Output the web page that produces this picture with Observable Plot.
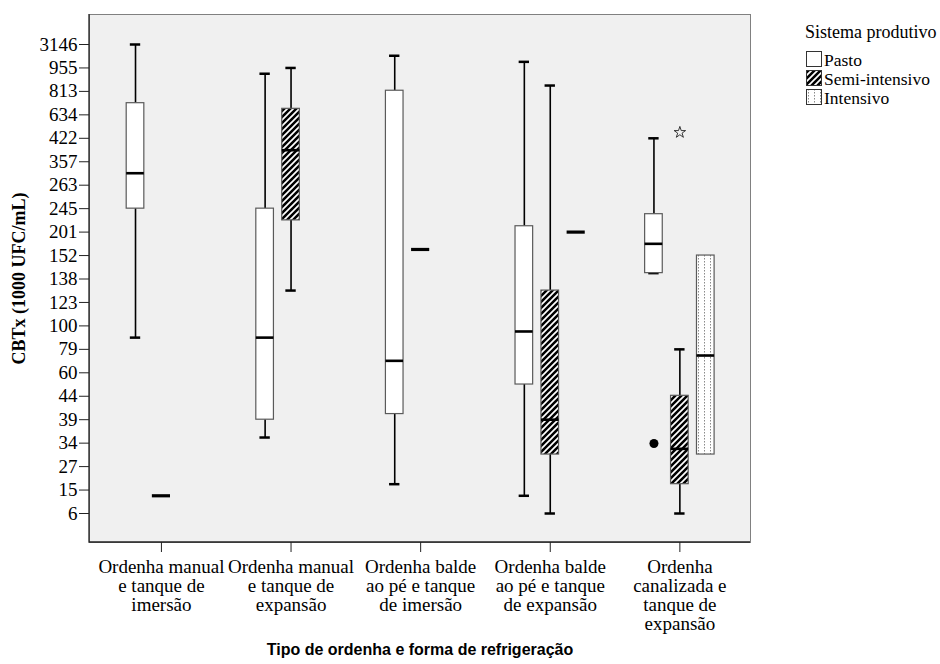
<!DOCTYPE html>
<html>
<head>
<meta charset="utf-8">
<script src="https://cdn.jsdelivr.net/npm/d3@7"></script>
<script src="https://cdn.jsdelivr.net/npm/@observablehq/plot@0.6"></script>
<style>
  body { margin: 0; background: #fff; }
  #wrap { position: relative; width: 940px; height: 664px; }
  #legend, #legend * { font-family: "Liberation Serif", "Times New Roman", serif !important; color: #000; }
  #legend .title { position: absolute; left: 805px; top: 23px; font-size: 18px; line-height: 18px; white-space: nowrap; }
  #legend .sw { position: absolute; left: 806px; width: 16px; height: 16px; }
  #legend .lab { position: absolute; left: 824px; font-size: 17.5px; line-height: 17px; white-space: nowrap; }
</style>
</head>
<body>
<div id="wrap"></div>
<script>
// ---------- data ----------
const groupLabels = [
  "Ordenha manual\ne tanque de\nimersão",
  "Ordenha manual\ne tanque de\nexpansão",
  "Ordenha balde\nao pé e tanque\nde imersão",
  "Ordenha balde\nao pé e tanque\nde expansão",
  "Ordenha\ncanalizada e\ntanque de\nexpansão"
];
const systems = ["Pasto", "Semi-intensivo", "Intensivo"];
const yTicks = [6, 15, 27, 34, 39, 44, 60, 79, 100, 123, 138, 152, 201, 245, 263, 357, 422, 634, 813, 955, 3146];

// boxes (group index, system, whiskers, quartiles, median)
const boxGroup    = [0, 1, 1, 2, 3, 3, 4, 4, 4];
const boxSystem   = ["Pasto", "Pasto", "Semi-intensivo", "Pasto", "Pasto", "Semi-intensivo", "Pasto", "Semi-intensivo", "Intensivo"];
const whiskerLow  = [89.5, 35.2, 130.6, 18, 12.8, 6, 141.5, 6, null];
const boxQ1       = [245, 39, 223, 40.2, 52, 30.6, 141.5, 18, 30.6];
const boxMedian   = [311, 89.5, 389, 69.7, 95, 39, 176.5, 32.3, 74];
const boxQ3       = [723, 245, 680, 817, 212, 130.6, 234.6, 44.3, 152];
const whiskerHigh = [3146, 920, 955, 2094, 1525, 848.5, 422, 79, null];

// single-observation series (drawn as a dash)
const singleGroup  = [0, 2, 3];
const singleSystem = ["Semi-intensivo", "Semi-intensivo", "Intensivo"];
const singleValue  = [12.8, 164.7, 201];

// outliers
const outlierGroup  = [4, 4];
const outlierSystem = ["Pasto", "Semi-intensivo"];
const outlierValue  = [33.9, 475];
const outlierKind   = ["circle", "star"];

// ---------- layout ----------
const serif = "'Liberation Serif', 'Times New Roman', serif";
const sans = "'Liberation Sans', Arial, sans-serif";
const sysOffset = {"Pasto": -0.2, "Semi-intensivo": 0, "Intensivo": 0.2};
const sysFill = {"Pasto": "#fff", "Semi-intensivo": "url(#hatch)", "Intensivo": "url(#dots)"};
const boxHalf = 0.068, capHalf = 0.04, dashHalf = 0.07;

const boxes = boxGroup.map((g, i) => ({
  g, s: boxSystem[i], lo: whiskerLow[i], q1: boxQ1[i], med: boxMedian[i], q3: boxQ3[i], hi: whiskerHigh[i],
  xc: g + sysOffset[boxSystem[i]]
}));
const singles = singleGroup.map((g, i) => ({g, s: singleSystem[i], v: singleValue[i], xc: g + sysOffset[singleSystem[i]]}));
const outliers = outlierGroup.map((g, i) => ({g, s: outlierSystem[i], v: outlierValue[i], kind: outlierKind[i], xc: g + sysOffset[outlierSystem[i]]}));
const withWhisk = boxes.filter(d => d.lo != null);

function patternDefs() {
  const ns = "http://www.w3.org/2000/svg";
  const defs = document.createElementNS(ns, "defs");
  defs.innerHTML =
    `<pattern id="hatch" patternUnits="userSpaceOnUse" width="6" height="6">
       <rect width="6" height="6" fill="#000"/>
       <path d="M-1,1 l2,-2 M0,6 l6,-6 M5,7 l2,-2" stroke="#fff" stroke-width="1.7"/>
     </pattern>
     <pattern id="dots" patternUnits="userSpaceOnUse" width="6" height="3">
       <rect width="6" height="3" fill="#fff"/>
       <rect x="2" y="0" width="1" height="1.5" fill="#8a8a8a"/>
     </pattern>`;
  return defs;
}
function axisLines(index, scales, values, dims) {
  const ns = "http://www.w3.org/2000/svg";
  const g = document.createElementNS(ns, "g");
  const l = dims.marginLeft, b = dims.height - dims.marginBottom, t = dims.marginTop, r = dims.width - dims.marginRight;
  g.innerHTML = `<path d="M${l},${t}V${b}H${r}" fill="none" stroke="#222" stroke-width="1.3"/>`;
  return g;
}

const plot = Plot.plot({
  width: 940,
  height: 664,
  marginLeft: 89,
  marginRight: 190,
  marginTop: 14,
  marginBottom: 122,
  style: {fontFamily: serif, fontSize: "19px", color: "#000", background: "#fff"},
  x: {type: "linear", domain: [-0.555, 4.545], axis: null},
  y: {type: "linear", domain: yTicks, insetTop: 30, insetBottom: 29, axis: null},
  marks: [
    patternDefs,
    Plot.frame({fill: "#f0f0f0", stroke: "#808080", strokeWidth: 1}),
    axisLines,
    Plot.axisY({ticks: yTicks, tickFormat: d => String(d), tickSize: 10, tickPadding: 2, fontSize: 19, fontFamily: serif, fontVariant: "normal", label: null, stroke: "#222"}),
    Plot.axisX({ticks: [0, 1, 2, 3, 4], tickFormat: i => groupLabels[i], tickSize: 10, tickPadding: 7, fontSize: 19, fontFamily: serif, fontVariant: "normal", lineHeight: 1.0, label: null, stroke: "#222"}),
    // whiskers
    Plot.ruleX(withWhisk, {x: "xc", y1: "q3", y2: "hi", stroke: "#000", strokeWidth: 1.6}),
    Plot.ruleX(withWhisk, {x: "xc", y1: "lo", y2: "q1", stroke: "#000", strokeWidth: 1.6}),
    Plot.ruleY(withWhisk, {y: "hi", x1: d => d.xc - capHalf, x2: d => d.xc + capHalf, stroke: "#000", strokeWidth: 2.5}),
    Plot.ruleY(withWhisk, {y: "lo", x1: d => d.xc - capHalf, x2: d => d.xc + capHalf, stroke: "#000", strokeWidth: 2.5}),
    // boxes
    ...systems.map(s => Plot.rect(boxes.filter(d => d.s === s), {
      x1: d => d.xc - boxHalf, x2: d => d.xc + boxHalf, y1: "q1", y2: "q3",
      fill: sysFill[s], stroke: "#5a5a5a", strokeWidth: 1.2
    })),
    // medians
    Plot.ruleY(boxes, {y: "med", x1: d => d.xc - boxHalf, x2: d => d.xc + boxHalf, stroke: "#000", strokeWidth: 2.6}),
    // single values
    Plot.ruleY(singles, {y: "v", x1: d => d.xc - dashHalf, x2: d => d.xc + dashHalf, stroke: "#000", strokeWidth: 3.2}),
    // outliers
    Plot.dot(outliers.filter(d => d.kind === "circle"), {x: "xc", y: "v", r: 4.5, fill: "#000", stroke: "none"}),
    Plot.dot(outliers.filter(d => d.kind === "star"), {x: "xc", y: "v", symbol: "star", r: 3.6, fill: "none", stroke: "#222", strokeWidth: 0.9}),
    // axis titles
    Plot.text(["CBTx (1000 UFC/mL)"], {text: d => d, frameAnchor: "left", textAnchor: "middle", dx: -70, rotate: -90, fontSize: 18, fontWeight: "bold", fontFamily: serif, fill: "#000"}),
    Plot.text(["Tipo de ordenha e forma de refrigeração"], {text: d => d, frameAnchor: "bottom", textAnchor: "middle", dy: 112, fontSize: 16, fontWeight: "bold", fontFamily: sans, fill: "#000"})
  ]
});

const wrap = document.getElementById("wrap");
wrap.appendChild(plot);

// legend
const legend = document.createElement("div");
legend.id = "legend";
const rowTops = systems.map((s, i) => 51 + i * 19);
legend.innerHTML = `<div class="title">Sistema produtivo</div>` + systems.map((s, i) =>
  `<svg class="sw" style="top:${rowTops[i]}px" width="16" height="16"><rect x="0.5" y="0.5" width="15" height="15" fill="${sysFill[s]}" stroke="#333" stroke-width="1"/></svg>` +
  `<div class="lab" style="top:${rowTops[i] + 1}px">${s}</div>`
).join("");
wrap.appendChild(legend);
</script>
</body>
</html>
